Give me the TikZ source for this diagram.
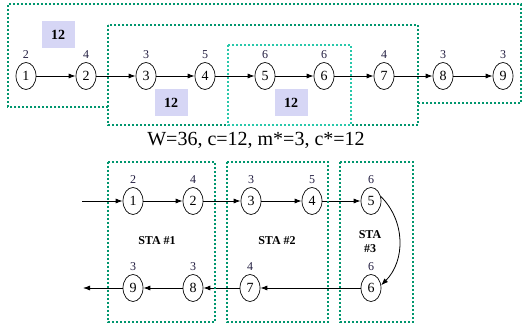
\documentclass[tikz,border=0pt]{standalone}
\usepackage{fontspec}
\setmainfont{Liberation Serif}
\usetikzlibrary{positioning,shapes.geometric,arrows.meta}
\definecolor{boxgreen}{RGB}{0,150,110}
\definecolor{boxaqua}{RGB}{40,200,170}
\definecolor{lavend}{RGB}{214,214,245}
\definecolor{numnavy}{RGB}{35,30,65}
\tikzset{
  task/.style={ellipse, draw, line width=0.7pt, minimum width=20pt, minimum height=27pt, inner sep=0pt, font=\fontsize{14}{14}\selectfont},
  tm/.style={font=\fontsize{12}{12}\selectfont, text=numnavy, inner sep=1pt, label distance=2pt},
  prec/.style={line width=0.8pt, -{Latex[length=7pt,width=5pt]}},
  zone/.style={boxgreen, line width=2.2pt, dash pattern=on 2pt off 2pt},
  cyc/.style={fill=lavend, minimum width=33pt, minimum height=27pt, font=\bfseries\fontsize{14}{14}\selectfont},
  sta/.style={font=\bfseries\fontsize{12}{14}\selectfont, align=center}
}

\begin{document}
\begin{tikzpicture}[x=1pt,y=-1pt]
\useasboundingbox (0,0) rectangle (523,326);
% upper chain of tasks
\foreach \n/\xx/\w in {1/26/2,2/86/4,3/146/3,4/205/5,5/265/6,6/324/6,7/384/4,8/443/3,9/503/3}
  \node[task, label={[tm]above:\w}] (t\n) at (\xx,76) {\n};
\foreach \a/\b in {1/2,2/3,3/4,4/5,5/6,6/7,7/8,8/9}
  \draw[prec] (t\a) -- (t\b);

% zones of the upper chain
\draw[zone] (108,107) -- (8,107) -- (8,4) -- (521,4) -- (521,103) -- (418,103);
\draw[zone] (108,25) rectangle (418,125);
\draw[zone, boxaqua] (228,45) rectangle (351,125);

\node[cyc] (c1) at (58,35) {12};
\node[cyc] (c2) at (171,103) {12};
\node[cyc] (c3) at (291,103) {12};

\node[font=\fontsize{20}{20}\selectfont] (wc) at (256,140) {W=36, c=12, m*=3, c*=12};

% U-shaped line
\foreach \n/\xx/\yy/\w in {1/133/201/2,2/193/201/4,3/251/201/3,4/312/201/5,5/371/201/6,6/371/288/6,7/250/288/4,8/193/288/3,9/133/288/3}
  \node[task, label={[tm]above:\w}] (b\n) at (\xx,\yy) {\n};
\coordinate (in) at (82,201);
\coordinate (out) at (83,288);
\draw[prec] (in) -- (b1);
\foreach \a/\b in {1/2,2/3,3/4,4/5,6/7,7/8,8/9}
  \draw[prec] (b\a) -- (b\b);
\draw[prec] (b9) -- (out);
\draw[prec] (b5.25) to[bend left=45] (b6.15);

\draw[zone] (108,162) rectangle (215,322);
\draw[zone] (227,162) rectangle (328,322);
\draw[zone] (340,162) rectangle (413,322);

\node[sta] (s1) at (157,241) {STA \#1};
\node[sta] (s2) at (277,241) {STA \#2};
\node[sta] (s3) at (370,242) {STA\\\#3};
\end{tikzpicture}
\end{document}
